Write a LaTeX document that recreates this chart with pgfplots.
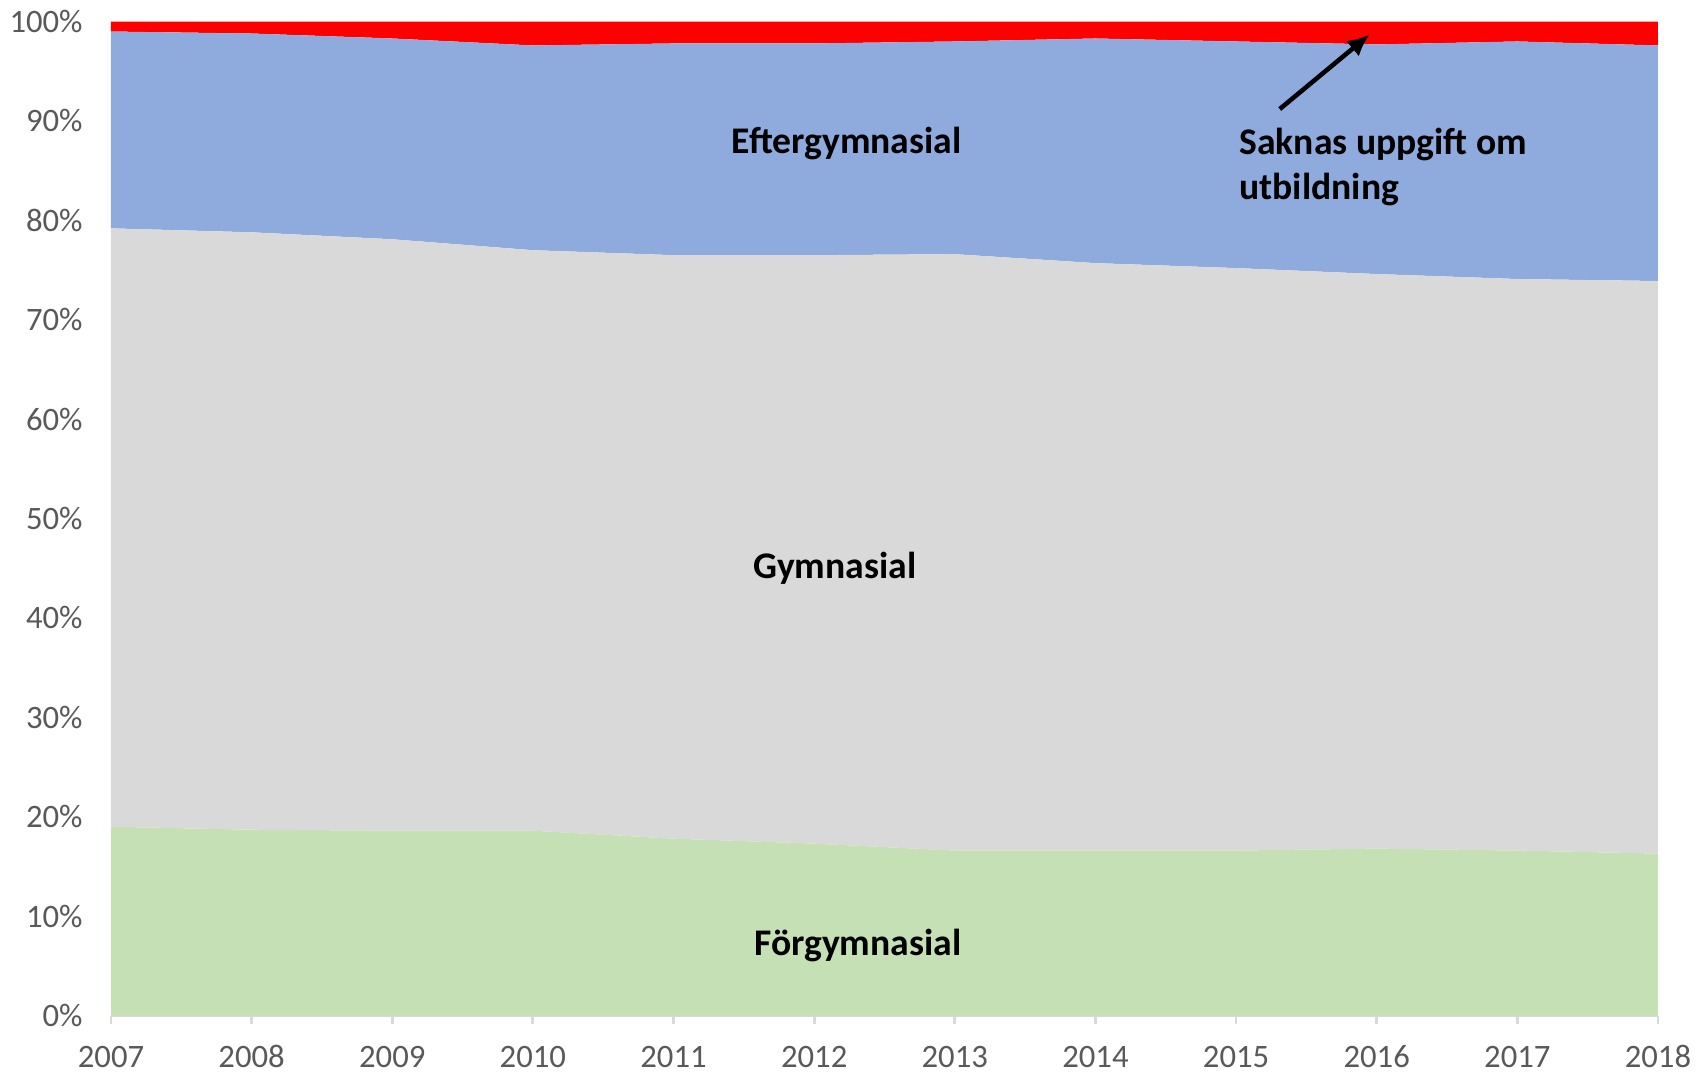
\documentclass[border=0pt]{standalone}
\usepackage{pgfplots}
\pgfplotsset{compat=1.18}
\usetikzlibrary{arrows.meta}
\usepackage{fontspec}
\setmainfont{Carlito}
\definecolor{cgreen}{HTML}{C5E0B4}
\definecolor{cgrey}{HTML}{D9D9D9}
\definecolor{cblue}{HTML}{8FAADC}
\definecolor{cred}{HTML}{FF0000}
\definecolor{ticktext}{HTML}{595959}
\begin{document}
\begin{tikzpicture}
\begin{axis}[
  name=ax, at={(0,0)}, anchor=south west,
  scale only axis, width=15.47cm, height=9.94cm,
  xmin=2007, xmax=2018, ymin=0, ymax=100,
  stack plots=y,
  xtick={2007,2008,...,2018},
  ytick={0,10,...,100},
  /pgf/number format/assume math mode=true,
  /pgf/number format/1000 sep={},
  yticklabel={\pgfmathprintnumber{\tick}\%},
  axis x line*=bottom, axis y line*=left,
  x axis line style={-, draw=cgrey, line width=0.8pt},
  y axis line style={draw=none},
  xtick style={draw=cgrey, line width=0.8pt},
  ytick style={draw=none},
  xtick align=outside,
  major tick length=0.8mm,
  ticklabel style={font=\fontsize{9.3}{11}\selectfont, text=ticktext},
  xticklabel style={anchor=north, yshift=-2.1mm, inner sep=0pt, text height=6.2pt, text depth=0pt},
  yticklabel style={xshift=-1.6mm},
  clip=false,
]
\addplot[fill=cgreen, draw=none] coordinates {
(2007,19.0) (2008,18.7) (2009,18.6) (2010,18.6) (2011,17.8) (2012,17.3)
(2013,16.6) (2014,16.6) (2015,16.6) (2016,16.8) (2017,16.6) (2018,16.3)} \closedcycle;
\addplot[fill=cgrey, draw=none] coordinates {
(2007,60.2) (2008,60.1) (2009,59.5) (2010,58.4) (2011,58.7) (2012,59.2)
(2013,60.0) (2014,59.1) (2015,58.6) (2016,57.8) (2017,57.5) (2018,57.6)} \closedcycle;
\addplot[fill=cblue, draw=none] coordinates {
(2007,19.8) (2008,20.0) (2009,20.2) (2010,20.6) (2011,21.3) (2012,21.3)
(2013,21.4) (2014,22.6) (2015,22.8) (2016,23.1) (2017,23.9) (2018,23.7)} \closedcycle;
\addplot[fill=cred, draw=none] coordinates {
(2007,1.0) (2008,1.2) (2009,1.7) (2010,2.4) (2011,2.2) (2012,2.2)
(2013,2.0) (2014,1.7) (2015,2.0) (2016,2.3) (2017,2.0) (2018,2.4)} \closedcycle;
\coordinate (lE) at (rel axis cs:0.4755,0.877);
\coordinate (lG) at (rel axis cs:0.468,0.450);
\coordinate (lF) at (rel axis cs:0.4827,0.070);
\coordinate (lS) at (rel axis cs:0.729,0.854);
\coordinate (a1) at (rel axis cs:0.7555,0.912);
\coordinate (a2) at (rel axis cs:0.8136,0.987);
\end{axis}
\node[font=\bfseries\fontsize{10.7}{12.9}\selectfont] at (lE) {Eftergymnasial};
\node[font=\bfseries\fontsize{10.7}{12.9}\selectfont] at (lG) {Gymnasial};
\node[font=\bfseries\fontsize{10.7}{12.9}\selectfont] at (lF) {Förgymnasial};
\node[font=\bfseries\fontsize{10.7}{12.9}\selectfont, anchor=west, align=left, inner sep=0pt] at (lS) {Saknas uppgift om\\utbildning};
\draw[line width=1.3pt, -{Latex[length=2.2mm,width=2mm]}] (a1) -- (a2);
\pgfresetboundingbox
\path (-1.11cm,-0.564cm) rectangle (15.85cm,10.156cm);
\end{tikzpicture}
\end{document}
